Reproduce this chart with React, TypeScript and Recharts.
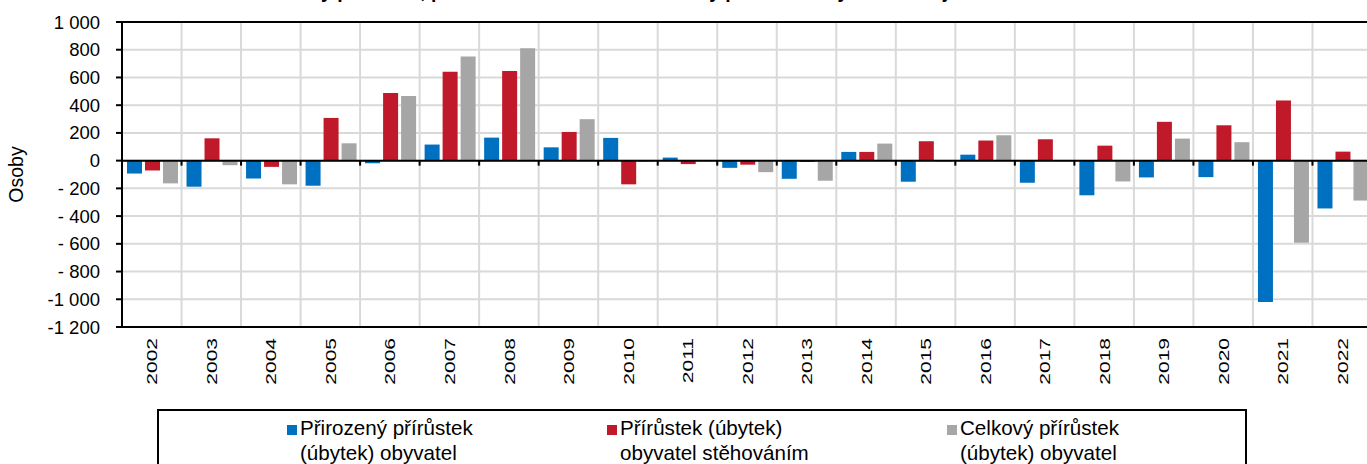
import React from "react";
import {
  BarChart,
  Bar,
  XAxis,
  YAxis,
  CartesianGrid,
  ReferenceLine,
} from "recharts";

const years = [
  "2002", "2003", "2004", "2005", "2006", "2007", "2008", "2009", "2010", "2011", "2012",
  "2013", "2014", "2015", "2016", "2017", "2018", "2019", "2020", "2021", "2022",
];

// přirozený přírůstek (úbytek)
const natural = [
  -93, -188, -129, -181, -19, 116, 166, 96, 164, 22, -52,
  -131, 63, -152, 43, -160, -250, -121, -119, -1019, -345,
];

// přírůstek (úbytek) stěhováním
const migration = [
  -71, 161, -45, 308, 487, 641, 646, 207, -171, -25, -29,
  -10, 63, 140, 145, 154, 108, 280, 255, 434, 65,
];

// celkový přírůstek (úbytek)
const total = [
  -164, -33, -171, 125, 466, 752, 810, 299, -10, -3, -83,
  -145, 123, -8, 183, -5, -150, 159, 133, -593, -288,
];

const yTicks = [-1200, -1000, -800, -600, -400, -200, 0, 200, 400, 600, 800, 1000];
const yTickLabels = [
  "-1 200", "-1 000", "- 800", "- 600", "- 400", "- 200", "0", "200", "400", "600", "800", "1 000",
];

const seriesNames = [
  ["Přirozený přírůstek", "(úbytek) obyvatel"],
  ["Přírůstek (úbytek)", "obyvatel stěhováním"],
  ["Celkový přírůstek", "(úbytek) obyvatel"],
];

const BLUE = "#0070c0";
const RED = "#c0192a";
const GRAY = "#a6a6a6";
const FONT = "'Liberation Sans', Arial, sans-serif";

const data = years.map((year, i) => ({
  year,
  natural: natural[i],
  migration: migration[i],
  total: total[i],
}));

function YearTick(props: any) {
  const { x, y, payload } = props;
  return (
    <text
      transform={`translate(${x},${y}) rotate(-90) scale(1,0.74)`}
      textAnchor="end"
      dy="0.36em"
      fontSize={21}
      fontFamily={FONT}
      fill="#000"
    >
      {payload.value}
    </text>
  );
}

function ZeroLine(props: any) {
  const { x1, y1, x2 } = props;
  const step = (x2 - x1) / years.length;
  return (
    <g>
      <line x1={x1} y1={y1} x2={x2} y2={y1} stroke="#000" strokeWidth={2} />
      {years.map((_, i) => (
        <line
          key={i}
          x1={x1 + (i + 1) * step}
          x2={x1 + (i + 1) * step}
          y1={y1}
          y2={y1 + 5}
          stroke="#000"
          strokeWidth={2}
        />
      ))}
    </g>
  );
}

function LegendBox() {
  const colors = [BLUE, RED, GRAY];
  const lefts = [287, 607, 947];
  return (
    <div
      style={{
        position: "absolute",
        left: 157,
        top: 409,
        width: 1086,
        height: 80,
        border: "2px solid #000",
        fontFamily: FONT,
        fontSize: 21,
      }}
    >
      {seriesNames.map((lines, i) => (
        <div
          key={i}
          style={{ position: "absolute", left: lefts[i] - 159, top: 4 }}
        >
          <span
            style={{
              position: "absolute",
              left: 0,
              top: 10,
              width: 10,
              height: 10,
              background: colors[i],
            }}
          />
          <div
            style={{
              position: "absolute",
              left: 13,
              top: 0,
              whiteSpace: "nowrap",
              lineHeight: "25px",
              transform: "scaleX(0.98)",
              transformOrigin: "left top",
            }}
          >
            {lines[0]}
            <br />
            {lines[1]}
          </div>
        </div>
      ))}
    </div>
  );
}

export default function App() {
  return (
    <div
      style={{
        position: "absolute",
        left: 0,
        top: 0,
        width: 1367,
        height: 464,
        overflow: "hidden",
        background: "#fff",
      }}
    >
      <div
        style={{
          position: "absolute",
          left: 0,
          width: 1420,
          top: -20,
          textAlign: "center",
          fontFamily: FONT,
          fontWeight: "bold",
          fontSize: 20,
          whiteSpace: "nowrap",
          transform: "scaleX(0.97)",
          transformOrigin: "left top",
        }}
      >
        Přirozený přírůstek, přírůstek stěhováním a celkový přírůstek obyvatel v kraji v letech 2002–2022
      </div>
      <BarChart
        width={1380}
        height={464}
        data={data}
        margin={{ top: 22, right: 8, bottom: 0, left: 0 }}
        barCategoryGap={5}
        barGap={3}
        style={{ position: "absolute", left: 0, top: 0 }}
      >
        <CartesianGrid
          stroke="#d9d9d9"
          strokeWidth={2}
          verticalCoordinatesGenerator={({ offset }: any) =>
            years.map((_, i) => offset.left + ((i + 1) * offset.width) / years.length)
          }
        />
        <XAxis
          dataKey="year"
          interval={0}
          height={137}
          axisLine={{ stroke: "#000", strokeWidth: 2 }}
          tickLine={false}
          tickMargin={5}
          tick={<YearTick />}
        />
        <YAxis
          width={122}
          domain={[-1200, 1000]}
          ticks={yTicks}
          interval={0}
          tickFormatter={(v: number) => yTickLabels[yTicks.indexOf(v)]}
          axisLine={{ stroke: "#000", strokeWidth: 2 }}
          tickLine={{ stroke: "#000", strokeWidth: 2 }}
          tickSize={6}
          tickMargin={16}
          tick={{ fill: "#000", fontSize: 18.5, fontFamily: FONT }}
          label={{
            value: "Osoby",
            angle: -90,
            position: "insideLeft",
            offset: 16,
            style: { textAnchor: "middle", fontSize: 19.5, fontFamily: FONT, fill: "#000" },
          }}
        />
        <Bar dataKey="natural" fill={BLUE} isAnimationActive={false} />
        <Bar dataKey="migration" fill={RED} isAnimationActive={false} />
        <Bar dataKey="total" fill={GRAY} isAnimationActive={false} />
        <ReferenceLine y={1000} stroke="#000" strokeWidth={2} />
        <ReferenceLine y={0} shape={<ZeroLine />} />
      </BarChart>
      <LegendBox />
    </div>
  );
}
